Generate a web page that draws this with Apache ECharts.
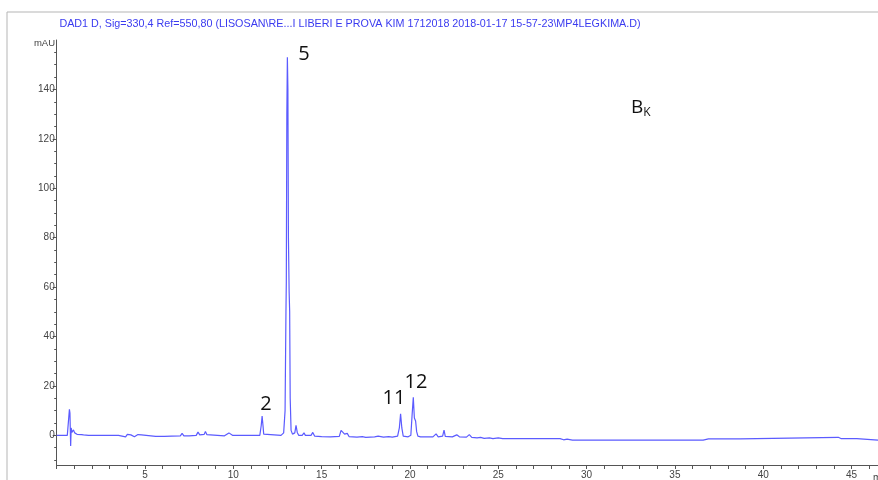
<!DOCTYPE html>
<html>
<head>
<meta charset="utf-8">
<script src="https://cdn.jsdelivr.net/npm/echarts@6/dist/echarts.min.js"></script>
<style>
  html, body { margin: 0; padding: 0; background: #fff; }
  #chart { width: 878px; height: 480px; }
</style>
</head>
<body>
<div id="chart"></div>
<script>
// Retention time (min) and detector signal (mAU) of the DAD1 D trace
const times = [
  0.00, 0.60, 0.70, 0.72, 0.75, 0.77, 0.79, 0.82, 0.86, 0.95, 1.02, 1.15, 1.40, 1.45, 1.52, 1.80,
  3.50, 3.60, 3.90, 4.00, 4.20, 4.40, 4.60, 4.80, 4.90, 5.60, 5.65, 5.70, 6.10, 6.15, 6.20, 6.50,
  6.55, 6.60, 7.00, 7.10, 7.20, 7.50, 7.55, 7.60, 7.90, 8.00, 8.10, 8.20, 8.35, 8.42, 8.50, 8.60,
  9.50, 9.75, 9.95, 10.50, 10.55, 10.60, 11.50, 11.58, 11.63, 11.68, 11.72, 11.80,
  12.70, 12.85, 12.93, 12.98, 13.00, 13.03, 13.06, 13.09, 13.12, 13.16, 13.19, 13.22, 13.27, 13.35,
  13.48, 13.55, 13.62, 13.70, 13.90, 14.00, 14.08, 14.40, 14.50, 14.60, 15.00, 15.50, 15.60, 16.00,
  16.10, 16.20, 16.30, 16.45, 16.55, 17.00, 17.30, 17.50, 18.00, 18.20, 18.50, 18.80, 19.00, 19.30,
  19.40, 19.47, 19.54, 19.62, 19.90, 20.05, 20.12, 20.19, 20.25, 20.32, 20.38, 20.45, 20.60, 21.30,
  21.48, 21.60, 21.85, 21.93, 22.00, 22.40, 22.65, 22.80, 23.20, 23.36, 23.50, 23.80, 24.00, 24.20,
  24.50, 24.70, 25.00, 25.10, 25.25, 28.50, 28.70, 28.90, 29.20, 36.60, 36.90, 38.70, 38.80, 44.25,
  44.40, 45.30, 45.40, 46.50
];
const signal = [
  0, 0, -0.3, 10.5, 9.0, 9.8, -4.3, 3.0, 1.2, 2.2, 1.0, 0.4, 0.3, 1.0, 0.2, 0,
  0, -0.6, -0.6, 0.4, 0.2, -0.6, 0.3, 0.2, -0.4, -0.4, 0.4, -0.4, -0.4, 0.3, -0.3, -0.3,
  0.3, -0.3, -0.2, 0.8, -0.2, -0.2, 0.4, -0.3, 0, 1.3, 0.2, -0.2, 0.4, 1.6, 0.3, -0.2,
  -0.2, 1.0, 0, 0, 0.4, 0, 0, 4, 7.8, 4, 0.5, 0,
  0, 1, 10, 50, 62, 130, 153, 140, 80, 58, 50, 15, 2, 0.5,
  1, 4.0, 1.2, 0, 0, 1.0, 0, 0, 1.2, -0.3, -0.5, -0.6, -0.3, -0.4,
  2.0, 2.4, 0.5, 0.8, -0.5, -0.7, -0.5, -0.8, -0.6, -0.3, -0.7, -0.5, -0.7, -0.3,
  3, 8.7, 3, -0.3, -0.6, 0, 8, 15.4, 7, 5.8, 1.5, -0.3, -0.6, -0.6,
  0.6, -0.6, -0.3, 2.1, -0.4, -0.6, 0.2, -0.6, -0.7, 0.3, -0.8, -1.0, -0.8, -1.2,
  -1.0, -1.3, -1.0, -0.2, -1.3, -1.3, -1.8, -1.5, -1.9, -1.9, -1.4, -1.4, -0.8, -0.8,
  -1.3, -1.3, -1.9, -1.9
];

// Axis tick values
const yLabelValues = [0, 20, 40, 60, 80, 100, 120, 140];
const yMinorValues = [-10, -5, 5, 10, 15, 25, 30, 35, 45, 50, 55, 65, 70, 75, 85, 90, 95,
  105, 110, 115, 125, 130, 135, 145, 150, 155];

// Peak numbers
const peakLabels = ['5', '2', '11', '12'];

const traceTitle = 'DAD1 D, Sig=330,4 Ref=550,80 (LISOSAN\\RE...I LIBERI E PROVA KIM 1712018 2018-01-17 15-57-23\\MP4LEGKIMA.D)';

const chart = echarts.init(document.getElementById('chart'), null, { renderer: 'canvas' });

const axisColor = '#555';
const labelFont = { color: '#444', fontSize: 10, fontFamily: 'Liberation Sans, Arial, sans-serif' };
const peakFont = { fill: '#111', fontSize: 20, fontFamily: 'Open Sans, sans-serif' };

const option = {
  backgroundColor: '#fff',
  animation: false,
  grid: { left: 56.7, top: 40, right: 0, height: 426 },
  xAxis: {
    type: 'value',
    min: 0,
    max: 46.5,
    interval: 5,
    splitLine: { show: false },
    axisLine: { onZero: false, lineStyle: { color: axisColor, width: 1 } },
    axisTick: { show: true, length: 4, lineStyle: { color: axisColor } },
    minorTick: { show: true, splitNumber: 5, length: 4, lineStyle: { color: axisColor } },
    axisLabel: Object.assign({ margin: 5, showMinLabel: false, showMaxLabel: false }, labelFont)
  },
  yAxis: [
    {
      type: 'value',
      min: -12,
      max: 160,
      splitLine: { show: false },
      axisLine: { show: true, onZero: false, lineStyle: { color: axisColor, width: 1 } },
      axisTick: { show: true, length: 4, customValues: yLabelValues, lineStyle: { color: axisColor } },
      axisLabel: Object.assign({ margin: 2, customValues: yLabelValues }, labelFont)
    },
    {
      type: 'value',
      position: 'left',
      min: -12,
      max: 160,
      splitLine: { show: false },
      axisLine: { show: false },
      axisTick: { show: true, length: 2.5, customValues: yMinorValues, lineStyle: { color: axisColor } },
      axisLabel: { show: false }
    }
  ],
  series: [{
    type: 'line',
    data: times.map((t, i) => [t, signal[i]]),
    showSymbol: false,
    symbol: 'none',
    lineStyle: { color: '#5b5bff', width: 1.2 },
    clip: true
  }],
  graphic: [
    { type: 'rect', shape: { x: 7, y: 12, width: 900, height: 500 },
      style: { fill: 'none', stroke: '#b5b5b5', lineWidth: 1 }, silent: true },
    { type: 'text', x: 350, y: 24,
      style: { text: traceTitle, fill: '#3b3bf0', fontSize: 10.75, fontFamily: 'Liberation Sans, Arial, sans-serif',
        textAlign: 'center', textVerticalAlign: 'middle' } },
    { type: 'text', x: 55, y: 43,
      style: { text: 'mAU', fill: '#444', fontSize: 9.5, fontFamily: 'Liberation Sans, Arial, sans-serif',
        textAlign: 'right', textVerticalAlign: 'middle' } },
    { type: 'text', x: 873, y: 478,
      style: { text: 'min', fill: '#444', fontSize: 10, fontFamily: 'Liberation Sans, Arial, sans-serif',
        textAlign: 'left', textVerticalAlign: 'middle' } },
    { type: 'text', x: 304, y: 54,
      style: Object.assign({ text: peakLabels[0], textAlign: 'center', textVerticalAlign: 'middle' }, peakFont) },
    { type: 'text', x: 266, y: 404,
      style: Object.assign({ text: peakLabels[1], textAlign: 'center', textVerticalAlign: 'middle' }, peakFont) },
    { type: 'text', x: 394, y: 398,
      style: Object.assign({ text: peakLabels[2], textAlign: 'center', textVerticalAlign: 'middle' }, peakFont) },
    { type: 'text', x: 416, y: 382,
      style: Object.assign({ text: peakLabels[3], textAlign: 'center', textVerticalAlign: 'middle' }, peakFont) },
    { type: 'text', x: 631, y: 108,
      style: {
        text: '{b|B}{k|K}',
        textVerticalAlign: 'middle',
        rich: {
          b: { fill: '#111', fontSize: 19, fontFamily: 'Open Sans, sans-serif' },
          k: { fill: '#111', fontSize: 12, fontFamily: 'Open Sans, sans-serif', padding: [10, 0, 0, 0] }
        }
      } }
  ]
};

chart.setOption(option);
</script>
</body>
</html>
